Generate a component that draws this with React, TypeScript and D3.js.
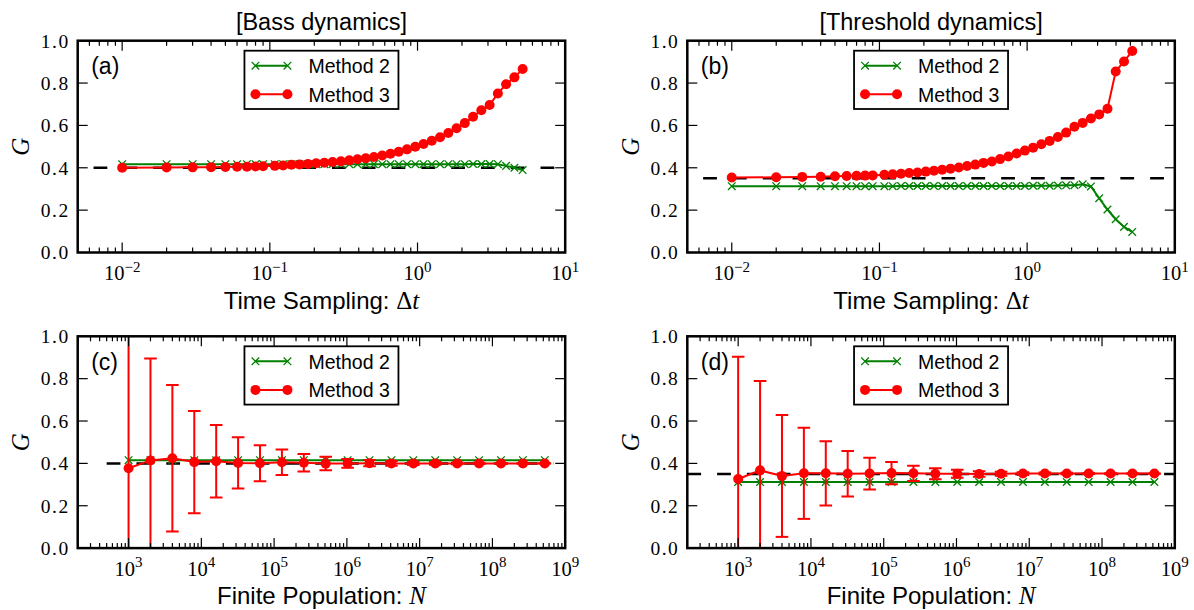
import React from 'react';
import * as d3 from 'd3';

// ---------- data ----------
const dtValues = [
  0.01, 0.02, 0.03, 0.04, 0.05, 0.06, 0.07, 0.08, 0.09,
  0.108, 0.123, 0.14, 0.159, 0.181, 0.206, 0.234, 0.266, 0.303, 0.345, 0.392,
  0.446, 0.507, 0.577, 0.656, 0.746, 0.849, 0.966, 1.098, 1.249, 1.421,
  1.616, 1.838, 2.091, 2.378, 2.705, 3.077, 3.5, 3.98, 4.53, 5.15,
];
const bassDtMethod2 = [
  0.417, 0.417, 0.417, 0.417, 0.417, 0.417, 0.417, 0.417, 0.417,
  0.417, 0.417, 0.417, 0.417, 0.417, 0.417, 0.417, 0.417, 0.417, 0.417, 0.417,
  0.417, 0.417, 0.417, 0.417, 0.417, 0.417, 0.417, 0.417, 0.417, 0.417,
  0.417, 0.417, 0.417, 0.418, 0.418, 0.418, 0.417, 0.409, 0.4, 0.389,
];
const bassDtMethod3 = [
  0.4, 0.401, 0.402, 0.403, 0.404, 0.405, 0.405, 0.406, 0.407,
  0.409, 0.411, 0.414, 0.416, 0.418, 0.421, 0.424, 0.427, 0.431, 0.435, 0.44,
  0.445, 0.451, 0.458, 0.466, 0.476, 0.487, 0.499, 0.512, 0.528, 0.544,
  0.564, 0.587, 0.611, 0.641, 0.672, 0.696, 0.751, 0.794, 0.827, 0.866,
];
const thrDtMethod2 = [
  0.313, 0.313, 0.313, 0.313, 0.313, 0.313, 0.313, 0.313, 0.313,
  0.313, 0.313, 0.314, 0.314, 0.314, 0.314, 0.314, 0.314, 0.314, 0.314, 0.314,
  0.314, 0.314, 0.314, 0.314, 0.314, 0.314, 0.314, 0.315, 0.315, 0.315,
  0.316, 0.317, 0.318, 0.322, 0.312, 0.256, 0.203, 0.157, 0.121, 0.097,
];
const thrDtMethod3 = [
  0.354, 0.355, 0.357, 0.358, 0.36, 0.361, 0.362, 0.363, 0.364,
  0.367, 0.369, 0.372, 0.375, 0.378, 0.382, 0.386, 0.391, 0.396, 0.401, 0.408,
  0.415, 0.423, 0.43, 0.441, 0.453, 0.467, 0.481, 0.495, 0.511, 0.527,
  0.545, 0.566, 0.594, 0.612, 0.633, 0.652, 0.679, 0.855, 0.902, 0.951,
];

const popValues = [
  1e3, 2e3, 4e3, 8e3, 1.6e4, 3.2e4, 6.4e4, 1.28e5, 2.56e5, 5.12e5,
  1.024e6, 2.048e6, 4.096e6, 8.192e6, 1.6384e7, 3.2768e7, 6.5536e7, 1.31072e8, 2.62144e8, 5.24288e8,
];
const bassPopMethod2 = [
  0.415, 0.415, 0.415, 0.415, 0.415, 0.415, 0.415, 0.415, 0.415, 0.415,
  0.415, 0.415, 0.415, 0.415, 0.415, 0.415, 0.415, 0.415, 0.415, 0.415,
];
const bassPopMethod3 = [
  0.377, 0.414, 0.424, 0.406, 0.41, 0.402, 0.401, 0.405, 0.403, 0.399,
  0.4, 0.401, 0.4, 0.4, 0.4, 0.4, 0.4, 0.4, 0.4, 0.4,
];
const bassPopErr3 = [
  0.68, 0.481, 0.346, 0.241, 0.171, 0.121, 0.085, 0.06, 0.041, 0.032,
  0.021, 0.015, 0.011, 0.008, 0.006, 0.004, 0.003, 0.002, 0.0015, 0.001,
];
const thrPopMethod2 = [
  0.312, 0.312, 0.312, 0.312, 0.312, 0.312, 0.312, 0.312, 0.312, 0.312,
  0.312, 0.312, 0.312, 0.312, 0.312, 0.312, 0.312, 0.312, 0.312, 0.312,
];
const thrPopMethod3 = [
  0.326, 0.367, 0.341, 0.353, 0.353, 0.351, 0.352, 0.354, 0.353, 0.351,
  0.351, 0.35, 0.351, 0.352, 0.352, 0.352, 0.352, 0.352, 0.352, 0.352,
];
const thrPopErr3 = [
  0.577, 0.422, 0.288, 0.215, 0.152, 0.107, 0.075, 0.052, 0.036, 0.026,
  0.019, 0.013, 0.009, 0.0065, 0.0046, 0.0033, 0.0023, 0.0016, 0.0012, 0.0008,
];

const yTicks = [0, 0.2, 0.4, 0.6, 0.8, 1.0];
const legendLabels = ['Method 2', 'Method 3'];
const titles = ['[Bass dynamics]', '[Threshold dynamics]'];
const panelLabels = ['(a)', '(b)', '(c)', '(d)'];
const refBass = 0.4;
const refThr = 0.35;
const dtDomain: [number, number] = [0.005, 10];
const popDomain: [number, number] = [200, 1e9];
const dtRefRange: [number, number] = [0.0064, 8.5];

// ---------- styles ----------
const GREEN = '#008000';
const RED = '#ff0000';
const SANS = '"Liberation Sans", Arial, Helvetica, sans-serif';
const SERIF = '"Liberation Serif", "Times New Roman", serif';
const AX_W = 487.5;
const AX_H = 211.8;

type PanelCfg = {
  id: string;
  left: number;
  top: number;
  xDomain: [number, number];
  xs: number[];
  m2: number[];
  m3: number[];
  err?: number[];
  ref: number;
  refRange: [number, number];
  label: string;
  title?: string;
  xKind: 'dt' | 'pop';
};

function xMarkPath(cx: number, cy: number, s: number) {
  return `M${cx - s},${cy - s}L${cx + s},${cy + s}M${cx - s},${cy + s}L${cx + s},${cy - s}`;
}

function Panel({ cfg }: { cfg: PanelCfg }) {
  const { id, left, top, xDomain, xs, m2, m3, err, ref, refRange, label, title, xKind } = cfg;
  const right = left + AX_W;
  const bottom = top + AX_H;
  const cx = (left + right) / 2;
  const x = d3.scaleLog().domain(xDomain).range([left, right]);
  const y = d3.scaleLinear().domain([0, 1]).range([bottom, top]);
  const line = d3
    .line<number>()
    .x((_, i) => x(xs[i]))
    .y((d) => y(d));

  const allTicks = x.ticks();
  const isMajor = (v: number) => Math.abs(Math.log10(v) - Math.round(Math.log10(v))) < 1e-9;
  const majors = allTicks.filter(isMajor);
  const minors = allTicks.filter((v) => !isMajor(v));

  const legW = 154;
  const legH = 58.3;
  const legX = cx - legW / 2;
  const legY = top + 10;

  const capHalf = 6.3;

  return (
    <g>
      <defs>
        <clipPath id={`clip-${id}`}>
          <rect x={left} y={top} width={AX_W} height={AX_H} />
        </clipPath>
      </defs>
      <g clipPath={`url(#clip-${id})`}>
        <line
          x1={x(refRange[0])}
          x2={x(refRange[1])}
          y1={y(ref)}
          y2={y(ref)}
          stroke="#000"
          strokeWidth={2.5}
          strokeDasharray="13.8 16"
        />
        <path d={line(m2) || ''} fill="none" stroke={GREEN} strokeWidth={2} />
        {m2.map((v, i) => (
          <path key={`g${i}`} d={xMarkPath(x(xs[i]), y(v), 3.8)} stroke={GREEN} strokeWidth={1.3} fill="none" />
        ))}
        {err &&
          m3.map((v, i) => {
            const px = x(xs[i]);
            const y1 = y(v - err[i]);
            const y2 = y(v + err[i]);
            return (
              <g key={`e${i}`} stroke={RED} strokeWidth={2}>
                <line x1={px} x2={px} y1={y1} y2={y2} />
                <line x1={px - capHalf} x2={px + capHalf} y1={y1} y2={y1} />
                <line x1={px - capHalf} x2={px + capHalf} y1={y2} y2={y2} />
              </g>
            );
          })}
        <path d={line(m3) || ''} fill="none" stroke={RED} strokeWidth={2} />
        {m3.map((v, i) => (
          <circle key={`r${i}`} cx={x(xs[i])} cy={y(v)} r={5} fill={RED} />
        ))}
      </g>

      <g stroke="#000" strokeWidth={1.2}>
        {majors.map((v) => (
          <g key={`M${v}`}>
            <line x1={x(v)} x2={x(v)} y1={bottom} y2={bottom - 10} />
            <line x1={x(v)} x2={x(v)} y1={top} y2={top + 10} />
          </g>
        ))}
        {minors.map((v) => (
          <g key={`m${v}`}>
            <line x1={x(v)} x2={x(v)} y1={bottom} y2={bottom - 5} />
            <line x1={x(v)} x2={x(v)} y1={top} y2={top + 5} />
          </g>
        ))}
        {yTicks.map((v) => (
          <g key={`y${v}`}>
            <line x1={left} x2={left + 10} y1={y(v)} y2={y(v)} />
            <line x1={right} x2={right - 10} y1={y(v)} y2={y(v)} />
          </g>
        ))}
      </g>

      <rect x={left} y={top} width={AX_W} height={AX_H} fill="none" stroke="#000" strokeWidth={2.5} />

      {yTicks.map((v) => (
        <text
          key={`yl${v}`}
          x={left - 8}
          y={y(v) + 6.8}
          textAnchor="end"
          fontFamily={SERIF}
          fontSize={19.5}
          letterSpacing={1.5}
          fill="#000"
        >
          {d3.format('.1f')(v)}
        </text>
      ))}

      {majors.map((v) => {
        const e = Math.round(Math.log10(v));
        return (
          <text key={`xl${v}`} x={x(v)} y={bottom + 27.5} textAnchor="middle" fontFamily={SERIF} fontSize={20.5} fill="#000">
            <tspan>10</tspan>
            <tspan dy={-8.5} fontSize={15}>
              {e < 0 ? `\u2212${-e}` : `${e}`}
            </tspan>
          </text>
        );
      })}

      <text
        transform={`translate(${left - 48.5},${(top + bottom) / 2}) rotate(-90)`}
        textAnchor="middle"
        fontFamily={SERIF}
        fontStyle="italic"
        fontSize={25}
        fill="#000"
      >
        G
      </text>

      <text x={cx} y={bottom + 56} textAnchor="middle" fontFamily={SANS} fontSize={24} fill="#000">
        {xKind === 'dt' ? (
          <>
            <tspan>Time Sampling: </tspan>
            <tspan fontFamily={SERIF} fontSize={25}>Δ</tspan>
            <tspan fontFamily={SERIF} fontStyle="italic" fontSize={25}>t</tspan>
          </>
        ) : (
          <>
            <tspan>Finite Population: </tspan>
            <tspan fontFamily={SERIF} fontStyle="italic" fontSize={25}>N</tspan>
          </>
        )}
      </text>

      {title && (
        <text x={cx} y={top - 11} textAnchor="middle" fontFamily={SANS} fontSize={23.5} fill="#000">
          {title}
        </text>
      )}

      <text x={left + 13.5} y={top + 33.5} fontFamily={SANS} fontSize={23} fill="#000">
        {label}
      </text>

      <rect x={legX} y={legY} width={legW} height={legH} fill="#fff" stroke="#000" strokeWidth={1.8} />
      {legendLabels.map((lab, i) => {
        const ry = legY + 15 + 28.6 * i;
        const lx1 = legX + 11;
        const lx2 = legX + 43;
        const col = i === 0 ? GREEN : RED;
        return (
          <g key={lab}>
            <line x1={lx1} x2={lx2} y1={ry} y2={ry} stroke={col} strokeWidth={2} />
            {i === 0 ? (
              <>
                <path d={xMarkPath(lx1, ry, 3.8)} stroke={col} strokeWidth={1.3} fill="none" />
                <path d={xMarkPath(lx2, ry, 3.8)} stroke={col} strokeWidth={1.3} fill="none" />
              </>
            ) : (
              <>
                <circle cx={lx1} cy={ry} r={5} fill={col} />
                <circle cx={lx2} cy={ry} r={5} fill={col} />
              </>
            )}
            <text x={legX + 64} y={ry + 7.2} fontFamily={SANS} fontSize={19.5} fill="#000">
              {lab}
            </text>
          </g>
        );
      })}
    </g>
  );
}

export default function App() {
  const panels: PanelCfg[] = [
    {
      id: 'a', left: 77.7, top: 40.7, xDomain: dtDomain, xs: dtValues,
      m2: bassDtMethod2, m3: bassDtMethod3, ref: refBass, refRange: dtRefRange,
      label: panelLabels[0], title: titles[0], xKind: 'dt',
    },
    {
      id: 'b', left: 687.3, top: 40.7, xDomain: dtDomain, xs: dtValues,
      m2: thrDtMethod2, m3: thrDtMethod3, ref: refThr, refRange: dtRefRange,
      label: panelLabels[1], title: titles[1], xKind: 'dt',
    },
    {
      id: 'c', left: 77.7, top: 336.3, xDomain: popDomain, xs: popValues,
      m2: bassPopMethod2, m3: bassPopMethod3, err: bassPopErr3, ref: refBass, refRange: [500, 7e8],
      label: panelLabels[2], xKind: 'pop',
    },
    {
      id: 'd', left: 687.3, top: 336.3, xDomain: popDomain, xs: popValues,
      m2: thrPopMethod2, m3: thrPopMethod3, err: thrPopErr3, ref: refThr, refRange: [200, 1e9],
      label: panelLabels[3], xKind: 'pop',
    },
  ];
  return (
    <svg
      width={1194}
      height={610}
      viewBox="0 0 1194 610"
      style={{ position: 'absolute', left: 0, top: 0, background: '#fff' }}
    >
      <rect x={0} y={0} width={1194} height={610} fill="#fff" />
      {panels.map((p) => (
        <Panel key={p.id} cfg={p} />
      ))}
    </svg>
  );
}
